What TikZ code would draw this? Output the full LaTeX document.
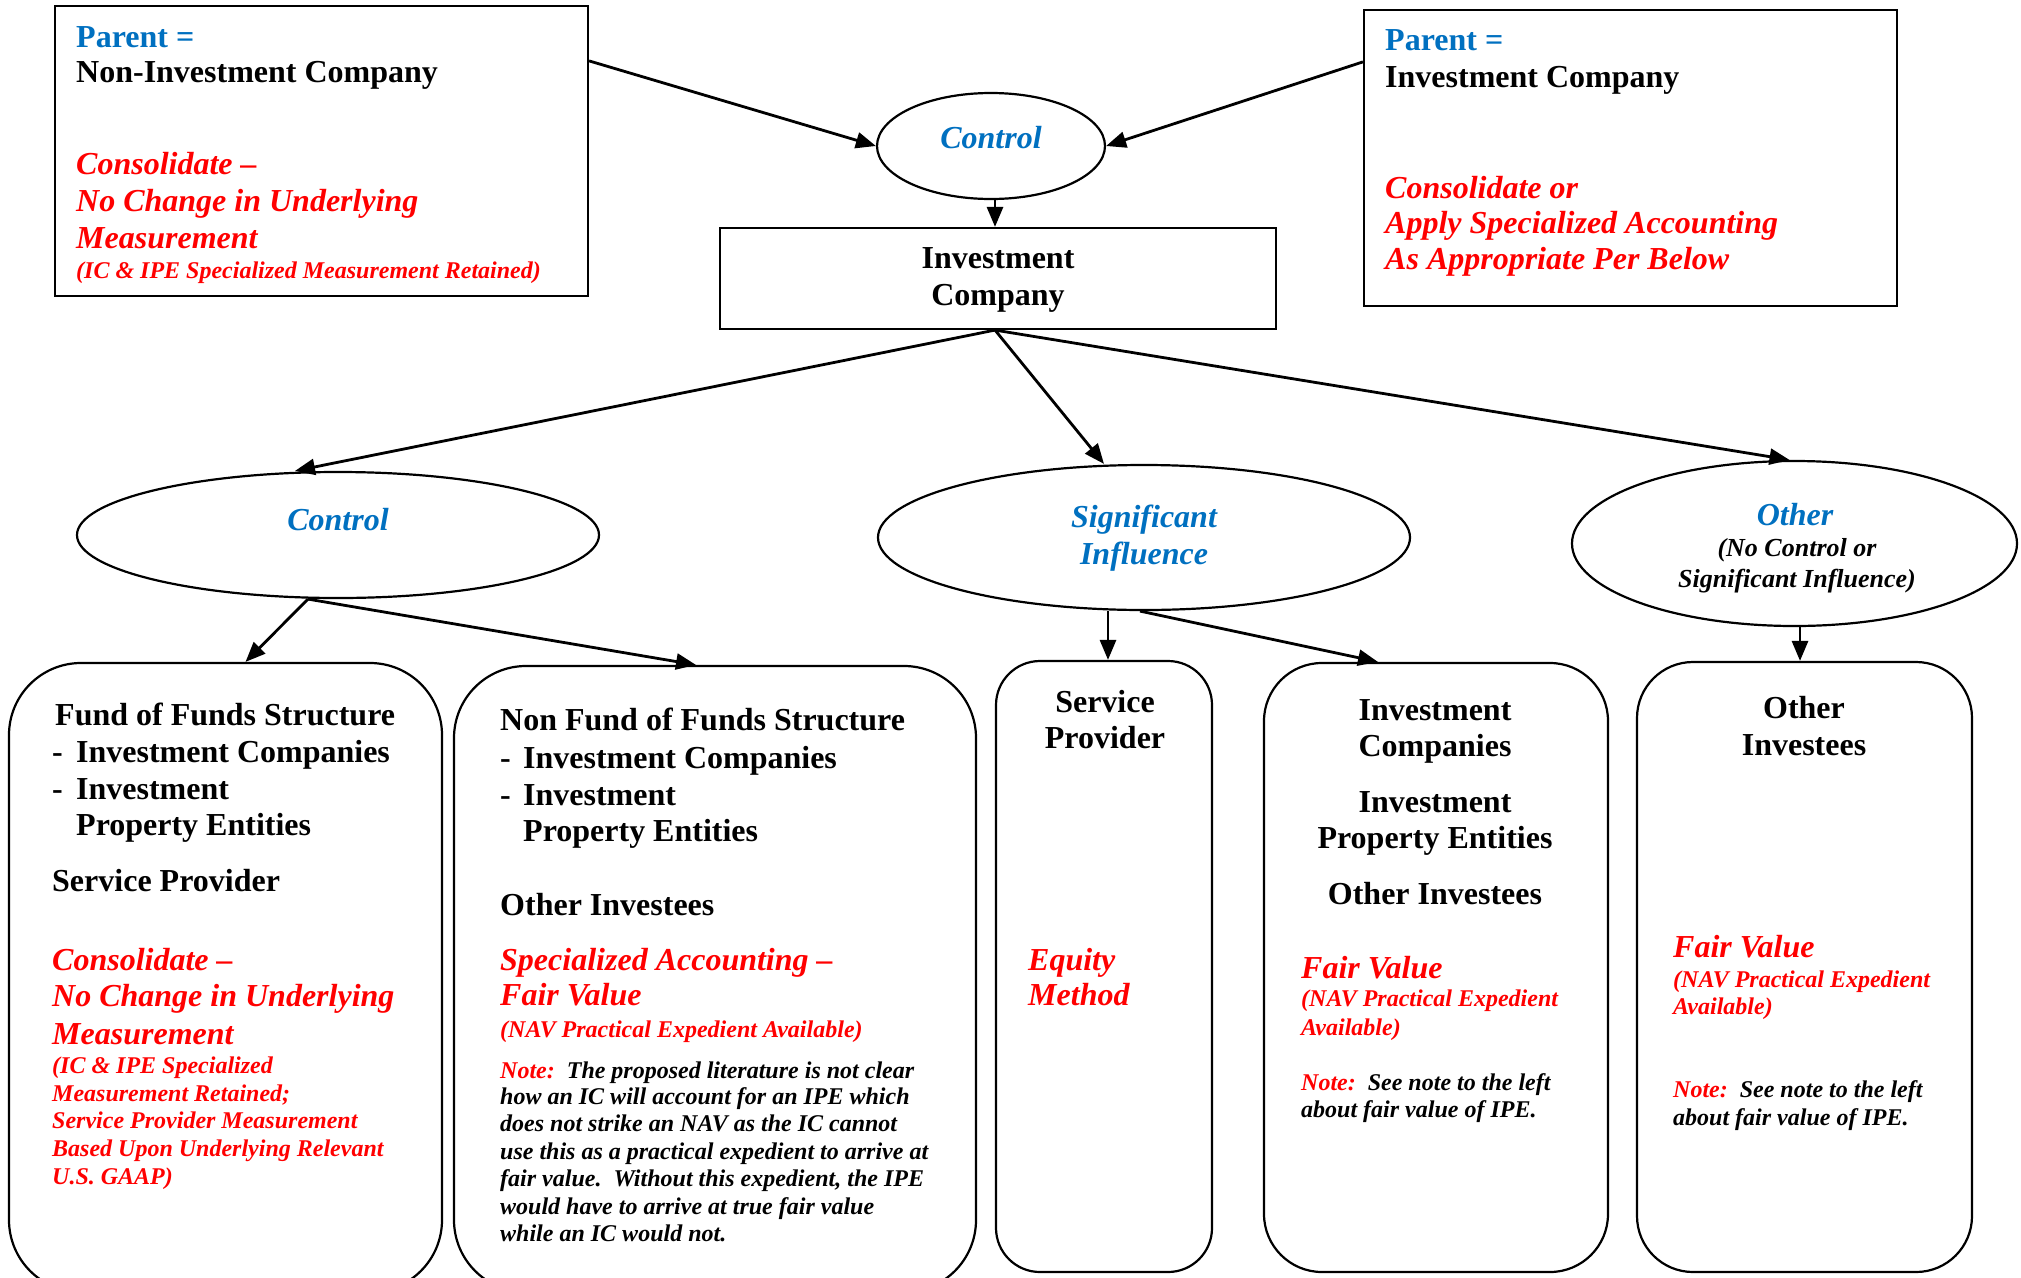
\documentclass[tikz,border=0pt]{standalone}
\usepackage{fontspec}
\setmainfont{Liberation Serif}
\usetikzlibrary{shapes.geometric,arrows.meta}
\definecolor{myblue}{HTML}{0070C0}
\definecolor{myred}{HTML}{FF0000}
\newcommand\myBig{\fontsize{32}{37}\selectfont}
\newcommand\mySmall{\fontsize{24}{27.5}\selectfont}
\newcommand\myMid{\fontsize{26}{31}\selectfont}
\tikzset{
  txt/.style={inner sep=0pt, anchor=base west},
  ctxt/.style={inner sep=0pt, anchor=base},
  bk/.style={font=\myBig\bfseries},
  bu/.style={font=\myBig\bfseries, text=myblue},
  bl/.style={font=\myBig\bfseries\itshape, text=myblue},
  rd/.style={font=\myBig\bfseries\itshape, text=myred},
  rs/.style={font=\mySmall\bfseries\itshape, text=myred},
  ns/.style={font=\mySmall\bfseries\itshape},
  nm/.style={font=\myMid\bfseries\itshape},
  sqbox/.style={draw, line width=2.2pt, inner sep=0pt, rectangle},
  rbox/.style={draw, line width=2.2pt, inner sep=0pt, rectangle, rounded corners=#1},
  oval/.style={draw, line width=2.2pt, inner sep=0pt, ellipse},
  conn/.style={line width=2.8pt, -{Triangle[length=20pt,width=16pt]}}
}
\begin{document}
\begin{tikzpicture}[x=1pt,y=-1pt]
\useasboundingbox (0,0) rectangle (2021,1277);
\fill[white] (0,0) rectangle (2021,1277);

% ---------- shapes ----------
\node[sqbox, minimum width=533pt, minimum height=290pt] (tl) at (321.5,151) {};
\node[sqbox, minimum width=533pt, minimum height=296pt] (tr) at (1630.5,158) {};
\node[oval, minimum width=228pt, minimum height=106pt] (ctl) at (991,146) {};
\node[sqbox, minimum width=556pt, minimum height=101pt] (ic) at (998,278.5) {};
\node[oval, minimum width=522pt, minimum height=126pt] (cl) at (338,535) {};
\node[oval, minimum width=532pt, minimum height=145pt] (si) at (1144,537.5) {};
\node[oval, minimum width=445pt, minimum height=165pt] (ot) at (1794.5,543.5) {};
\node[rbox=72pt, minimum width=433pt, minimum height=629pt] (b1) at (225.5,977.5) {};
\node[rbox=72pt, minimum width=522pt, minimum height=626pt] (b2) at (715,979) {};
\node[rbox=44pt, minimum width=216pt, minimum height=611pt] (b3) at (1104,966.5) {};
\node[rbox=58pt, minimum width=344pt, minimum height=609pt] (b4) at (1436,967.5) {};
\node[rbox=56pt, minimum width=335pt, minimum height=610pt] (b5) at (1804.5,967) {};

% ---------- connectors ----------
\draw[conn] ([yshift=-56pt]tl.north east) -- (ctl.west);
\draw[conn] ([yshift=-53pt]tr.north west) -- (ctl.east);
\draw[conn] ([xshift=4pt]ctl.south) -- ([xshift=-3pt]ic.north);
\draw[conn] ([xshift=-3pt]ic.south) -- ([xshift=-43pt]cl.north);
\draw[conn] ([xshift=-3pt]ic.south) -- ([xshift=-40pt]si.north);
\draw[conn] ([xshift=-3pt]ic.south) -- ([xshift=-5pt]ot.north);
\draw[conn] ([xshift=-30pt]cl.south) -- ([xshift=20pt]b1.north);
\draw[conn] ([xshift=-30pt]cl.south) -- ([xshift=-19pt]b2.north);
\draw[conn] ([xshift=-36pt]si.south) -- ([xshift=4pt]b3.north);
\draw[conn] ([xshift=-4pt]si.south) -- ([xshift=-58pt]b4.north);
\draw[conn] ([xshift=5.5pt]ot.south) -- ([xshift=-4.5pt]b5.north);

% ---------- top-left box ----------
\node[txt, bu] (tl1) at (76,47) {Parent =};
\node[txt, bk] (tl2) at (76,82) {Non-Investment Company};
\node[txt, rd] (tl3) at (76,174) {Consolidate –};
\node[txt, rd] (tl4) at (76,211) {No Change in Underlying};
\node[txt, rd] (tl5) at (76,248) {Measurement};
\node[txt, rs] (tl6) at (76,278) {(IC \& IPE Specialized Measurement Retained)};

% ---------- top-right box ----------
\node[txt, bu] (tr1) at (1385,50) {Parent =};
\node[txt, bk] (tr2) at (1385,87) {Investment Company};
\node[txt, rd] (tr3) at (1385,198) {Consolidate or};
\node[txt, rd] (tr4) at (1385,233) {Apply Specialized Accounting};
\node[txt, rd] (tr5) at (1385,269) {As Appropriate Per Below};

% ---------- centre ----------
\node[ctxt, bl] (ctlt) at (991,148) {Control};
\node[ctxt, bk] (ic1) at (998,268) {Investment};
\node[ctxt, bk] (ic2) at (998,305) {Company};

% ---------- ellipses ----------
\node[ctxt, bl] (clt) at (338,530) {Control};
\node[ctxt, bl] (si1) at (1144,527) {Significant};
\node[ctxt, bl] (si2) at (1144,564) {Influence};
\node[ctxt, bl] (ot1) at (1795,525) {Other};
\node[ctxt, nm] (ot2) at (1797,556) {(No Control or};
\node[ctxt, nm] (ot3) at (1797,587) {Significant Influence)};

% ---------- box 1 ----------
\node[txt, bk] (a1) at (55,725) {Fund of Funds Structure};
\node[txt, bk] (a2) at (52,762) {\makebox[24pt][l]{-}Investment Companies};
\node[txt, bk] (a3) at (52,799) {\makebox[24pt][l]{-}Investment};
\node[txt, bk] (a4) at (76,835) {Property Entities};
\node[txt, bk] (a5) at (52,891) {Service Provider};
\node[txt, rd] (a6) at (52,970) {Consolidate –};
\node[txt, rd] (a7) at (52,1006) {No Change in Underlying};
\node[txt, rd] (a8) at (52,1044) {Measurement};
\node[txt, rs] (a9) at (52,1073) {(IC \& IPE Specialized};
\node[txt, rs] (a10) at (52,1101) {Measurement Retained;};
\node[txt, rs] (a11) at (52,1128) {Service Provider Measurement};
\node[txt, rs] (a12) at (52,1156) {Based Upon Underlying Relevant};
\node[txt, rs] (a13) at (52,1184) {U.S. GAAP)};

% ---------- box 2 ----------
\node[txt, bk] (c1) at (500,730) {Non Fund of Funds Structure};
\node[txt, bk] (c2) at (500,768) {\makebox[23pt][l]{-}Investment Companies};
\node[txt, bk] (c3) at (500,805) {\makebox[23pt][l]{-}Investment};
\node[txt, bk] (c4) at (523,841) {Property Entities};
\node[txt, bk] (c5) at (500,915) {Other Investees};
\node[txt, rd] (c6) at (500,970) {Specialized Accounting –};
\node[txt, rd] (c7) at (500,1005) {Fair Value};
\node[txt, rs] (c8) at (500,1037) {(NAV Practical Expedient Available)};
\node[txt, ns] (c9) at (500,1078) {\textcolor{myred}{Note:}\ \ The proposed literature is not clear};
\node[txt, ns] (c10) at (500,1104) {how an IC will account for an IPE which};
\node[txt, ns] (c11) at (500,1131) {does not strike an NAV as the IC cannot};
\node[txt, ns] (c12) at (500,1159) {use this as a practical expedient to arrive at};
\node[txt, ns] (c13) at (500,1186) {fair value.\ \ Without this expedient, the IPE};
\node[txt, ns] (c14) at (500,1214) {would have to arrive at true fair value};
\node[txt, ns] (c15) at (500,1241) {while an IC would not.};

% ---------- box 3 ----------
\node[ctxt, bk] (d1) at (1105,712) {Service};
\node[ctxt, bk] (d2) at (1105,748) {Provider};
\node[txt, rd] (d3) at (1028,970) {Equity};
\node[txt, rd] (d4) at (1028,1005) {Method};

% ---------- box 4 ----------
\node[ctxt, bk] (e1) at (1435,720) {Investment};
\node[ctxt, bk] (e2) at (1435,756) {Companies};
\node[ctxt, bk] (e3) at (1435,812) {Investment};
\node[ctxt, bk] (e4) at (1435,848) {Property Entities};
\node[ctxt, bk] (e5) at (1435,904) {Other Investees};
\node[txt, rd] (e6) at (1301,978) {Fair Value};
\node[txt, rs] (e7) at (1301,1006) {(NAV Practical Expedient};
\node[txt, rs] (e8) at (1301,1035) {Available)};
\node[txt, ns] (e9) at (1301,1090) {\textcolor{myred}{Note:}\ \ See note to the left};
\node[txt, ns] (e10) at (1301,1117) {about fair value of IPE.};

% ---------- box 5 ----------
\node[ctxt, bk] (f1) at (1804,718) {Other};
\node[ctxt, bk] (f2) at (1804,755) {Investees};
\node[txt, rd] (f3) at (1673,957) {Fair Value};
\node[txt, rs] (f4) at (1673,987) {(NAV Practical Expedient};
\node[txt, rs] (f5) at (1673,1014) {Available)};
\node[txt, ns] (f6) at (1673,1097) {\textcolor{myred}{Note:}\ \ See note to the left};
\node[txt, ns] (f7) at (1673,1125) {about fair value of IPE.};
\end{tikzpicture}
\end{document}
